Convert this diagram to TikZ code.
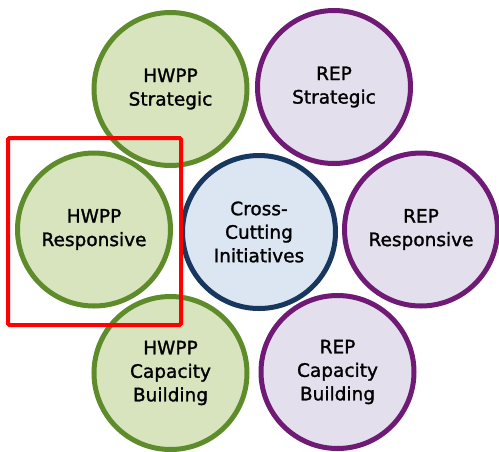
\documentclass[tikz,border=0pt]{standalone}
\usepackage{fontspec}
\setmainfont{DejaVu Sans}
\newfontfamily\bubfont{DejaVu Sans}[FakeBold=1.4]
\definecolor{gline}{HTML}{5E8C2A}
\definecolor{gfill}{HTML}{D7E4BD}
\definecolor{pline}{HTML}{6F1A74}
\definecolor{pfill}{HTML}{E4DFEC}
\definecolor{bline}{HTML}{17375E}
\definecolor{bfill}{HTML}{DCE6F2}
\definecolor{hred}{HTML}{FF0000}
\tikzset{
  bub/.style={circle, line width=5pt, minimum size=153pt, inner sep=0pt, align=center,
    font=\bubfont\fontsize{18.5}{23.5}\selectfont},
  hw/.style={bub, draw=gline, fill=gfill},
  rp/.style={bub, draw=pline, fill=pfill},
  cc/.style={bub, draw=bline, fill=bfill},
  hilite/.style={draw=hred, line width=4pt, rounded corners=1.5pt}
}
\begin{document}
\begin{tikzpicture}[x=1pt,y=-1pt]
\useasboundingbox (0,0) rectangle (499,451);
\node[hw] (hs) at (170.5,89) {HWPP\\Strategic};
\node[rp] (rs) at (334,87) {REP\\Strategic};
\node[hw] (hr) at (94,229.5) {HWPP\\Responsive};
\node[cc] (cc) at (259,232) {Cross-\\Cutting\\Initiatives};
\node[rp] (rr) at (421,229.5) {REP\\Responsive};
\node[hw] (hc) at (170.5,373) {HWPP\\Capacity\\Building};
\node[rp] (rc) at (337.5,372) {REP\\Capacity\\Building};
\draw[hilite] (8,138) rectangle (181,325);
\end{tikzpicture}
\end{document}
